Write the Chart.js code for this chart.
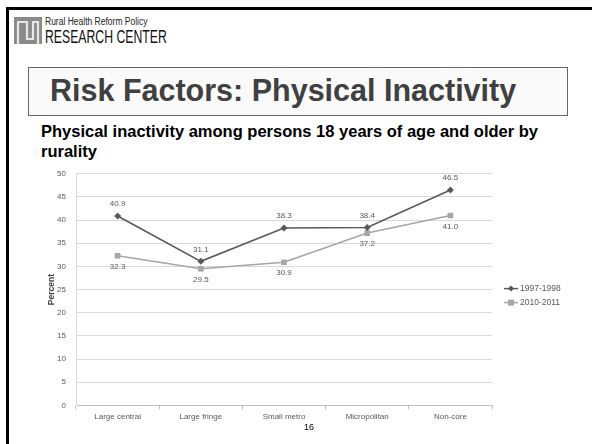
<!DOCTYPE html>
<html>
<head>
<meta charset="utf-8">
<script src="https://cdn.jsdelivr.net/npm/chart.js@4/dist/chart.umd.min.js"></script>
<style>
  html, body { margin: 0; padding: 0; background: #fff; }
  body { width: 592px; height: 444px; position: relative; overflow: hidden; font-family: "Liberation Sans", Arial, sans-serif; }
  .frame-top { position: absolute; left: 6px; top: 7px; width: 586px; height: 3px; background: #000; }
  .frame-left { position: absolute; left: 6px; top: 7px; width: 3px; height: 437px; background: #000; }
  .logo { position: absolute; left: 14px; top: 17px; }
  .logo-small { position: absolute; left: 45px; top: 16px; font-size: 10px; color: #222; white-space: nowrap; transform: scaleX(0.85); transform-origin: left top; }
  .logo-big { position: absolute; left: 45px; top: 27px; font-size: 18px; color: #111; white-space: nowrap; transform: scaleX(0.68); transform-origin: left top; }
  .title-box { position: absolute; left: 28px; top: 67px; width: 540px; height: 49px; background: #fafafa; border: 1px solid #666; box-sizing: border-box; }
  .title { position: absolute; left: 50px; top: 73px; font-size: 30.5px; font-weight: bold; color: #404040; white-space: nowrap; }
  .subtitle { position: absolute; left: 41px; top: 121px; width: 530px; font-size: 16.5px; font-weight: bold; color: #000; line-height: 20px; }
  .chart-wrap { position: absolute; left: 30px; top: 159px; width: 562px; height: 283px; }
  .page { position: absolute; left: 304px; top: 422px; font-size: 9px; color: #000; }
</style>
</head>
<body>
<div class="frame-top"></div>
<div class="frame-left"></div>
<svg class="logo" width="28" height="27" viewBox="0 0 28 27">
  <rect x="0" y="0" width="28" height="27" fill="#8a8a8a"/>
  <path d="M4 27 V5 H13 V22 H19 V5 H24 V27" fill="none" stroke="#e6e6e6" stroke-width="2.2"/>
</svg>
<div class="logo-small">Rural Health Reform Policy</div>
<div class="logo-big">RESEARCH CENTER</div>
<div class="title-box"></div>
<div class="title">Risk Factors: Physical Inactivity</div>
<div class="subtitle">Physical inactivity among persons 18 years of age and older by rurality</div>
<div class="chart-wrap"><canvas id="chart"></canvas></div>
<div class="page">16</div>
<script>
// Categories and values (percent)
const categories = ["Large central", "Large fringe", "Small metro", "Micropolitan", "Non-core"];
const series1997 = [40.9, 31.1, 38.3, 38.4, 46.5];
const series2010 = [32.3, 29.5, 30.9, 37.2, 41.0];
const seriesNames = ["1997-1998", "2010-2011"];
const yTicks = [0, 5, 10, 15, 20, 25, 30, 35, 40, 45, 50];

const DARK = "#595959";
const LIGHT = "#a6a6a6";

// Value labels: first series above its points, second series below
const valueLabels = {
  id: "valueLabels",
  afterDatasetsDraw(chart) {
    const ctx = chart.ctx;
    ctx.save();
    ctx.font = "8px 'Liberation Sans', Arial, sans-serif";
    ctx.fillStyle = DARK;
    ctx.textAlign = "center";
    chart.data.datasets.forEach((ds, di) => {
      const meta = chart.getDatasetMeta(di);
      meta.data.forEach((pt, i) => {
        const v = ds.data[i];
        if (di === 0) {
          ctx.textBaseline = "bottom";
          ctx.fillText(v.toFixed(1), pt.x, pt.y - 8);
        } else {
          ctx.textBaseline = "top";
          ctx.fillText(v.toFixed(1), pt.x, pt.y + 7);
        }
      });
    });
    ctx.restore();
  }
};

// Legend on the right: short line with the series marker, then the name
const sideLegend = {
  id: "sideLegend",
  afterDraw(chart) {
    const ctx = chart.ctx;
    const area = chart.chartArea;
    const x0 = area.right + 12;
    const yMid = (area.top + area.bottom) / 2;
    ctx.save();
    ctx.font = "8.5px 'Liberation Sans', Arial, sans-serif";
    ctx.textBaseline = "middle";
    ctx.textAlign = "left";
    chart.data.datasets.forEach((ds, di) => {
      const y = yMid - 1 + di * 14;
      ctx.strokeStyle = ds.borderColor;
      ctx.lineWidth = 1.5;
      ctx.beginPath();
      ctx.moveTo(x0, y);
      ctx.lineTo(x0 + 14, y);
      ctx.stroke();
      ctx.fillStyle = ds.borderColor;
      if (ds.pointStyle === "rect") {
        ctx.fillRect(x0 + 7 - 3, y - 3, 6, 6);
      } else {
        ctx.beginPath();
        ctx.moveTo(x0 + 7, y - 3);
        ctx.lineTo(x0 + 10, y);
        ctx.lineTo(x0 + 7, y + 3);
        ctx.lineTo(x0 + 4, y);
        ctx.closePath();
        ctx.fill();
      }
      ctx.fillStyle = DARK;
      ctx.fillText(seriesNames[di], x0 + 16, y);
    });
    ctx.restore();
  }
};

new Chart(document.getElementById("chart"), {
  type: "line",
  data: {
    labels: categories,
    datasets: [
      {
        label: seriesNames[0],
        data: series1997,
        borderColor: DARK,
        backgroundColor: DARK,
        borderWidth: 1.6,
        pointStyle: "rectRot",
        pointRadius: 3.5,
        pointBorderWidth: 0,
        tension: 0
      },
      {
        label: seriesNames[1],
        data: series2010,
        borderColor: LIGHT,
        backgroundColor: LIGHT,
        borderWidth: 1.6,
        pointStyle: "rect",
        pointRadius: 4,
        pointBorderWidth: 0,
        tension: 0
      }
    ]
  },
  options: {
    responsive: true,
    maintainAspectRatio: false,
    animation: false,
    devicePixelRatio: 1,
    layout: { padding: { left: 0, right: 100, top: 13, bottom: 17 } },
    plugins: {
      legend: { display: false },
      tooltip: { enabled: false }
    },
    scales: {
      x: {
        type: "category",
        offset: true,
        grid: {
          offset: true,
          drawOnChartArea: false,
          drawTicks: true,
          tickLength: 4,
          color: "#bfbfbf"
        },
        border: { display: true, color: "#bfbfbf", width: 1 },
        ticks: {
          color: DARK,
          font: { size: 8, family: "'Liberation Sans', Arial, sans-serif" },
          padding: 3,
          maxRotation: 0
        }
      },
      y: {
        min: 0,
        max: 50,
        afterBuildTicks(scale) {
          scale.ticks = yTicks.map(v => ({ value: v }));
        },
        afterFit(scale) { scale.width = 46; },
        grid: { color: "#d9d9d9", drawTicks: false, lineWidth: 1 },
        border: { display: true, color: "#d9d9d9" },
        ticks: {
          color: DARK,
          font: { size: 8, family: "'Liberation Sans', Arial, sans-serif" },
          padding: 10
        },
        title: {
          display: true,
          text: "Percent",
          color: "#404040",
          font: { size: 8.5, weight: "bold", family: "'Liberation Sans', Arial, sans-serif" },
          padding: { top: 17, bottom: 0 }
        }
      }
    }
  },
  plugins: [valueLabels, sideLegend]
});
</script>
</body>
</html>
